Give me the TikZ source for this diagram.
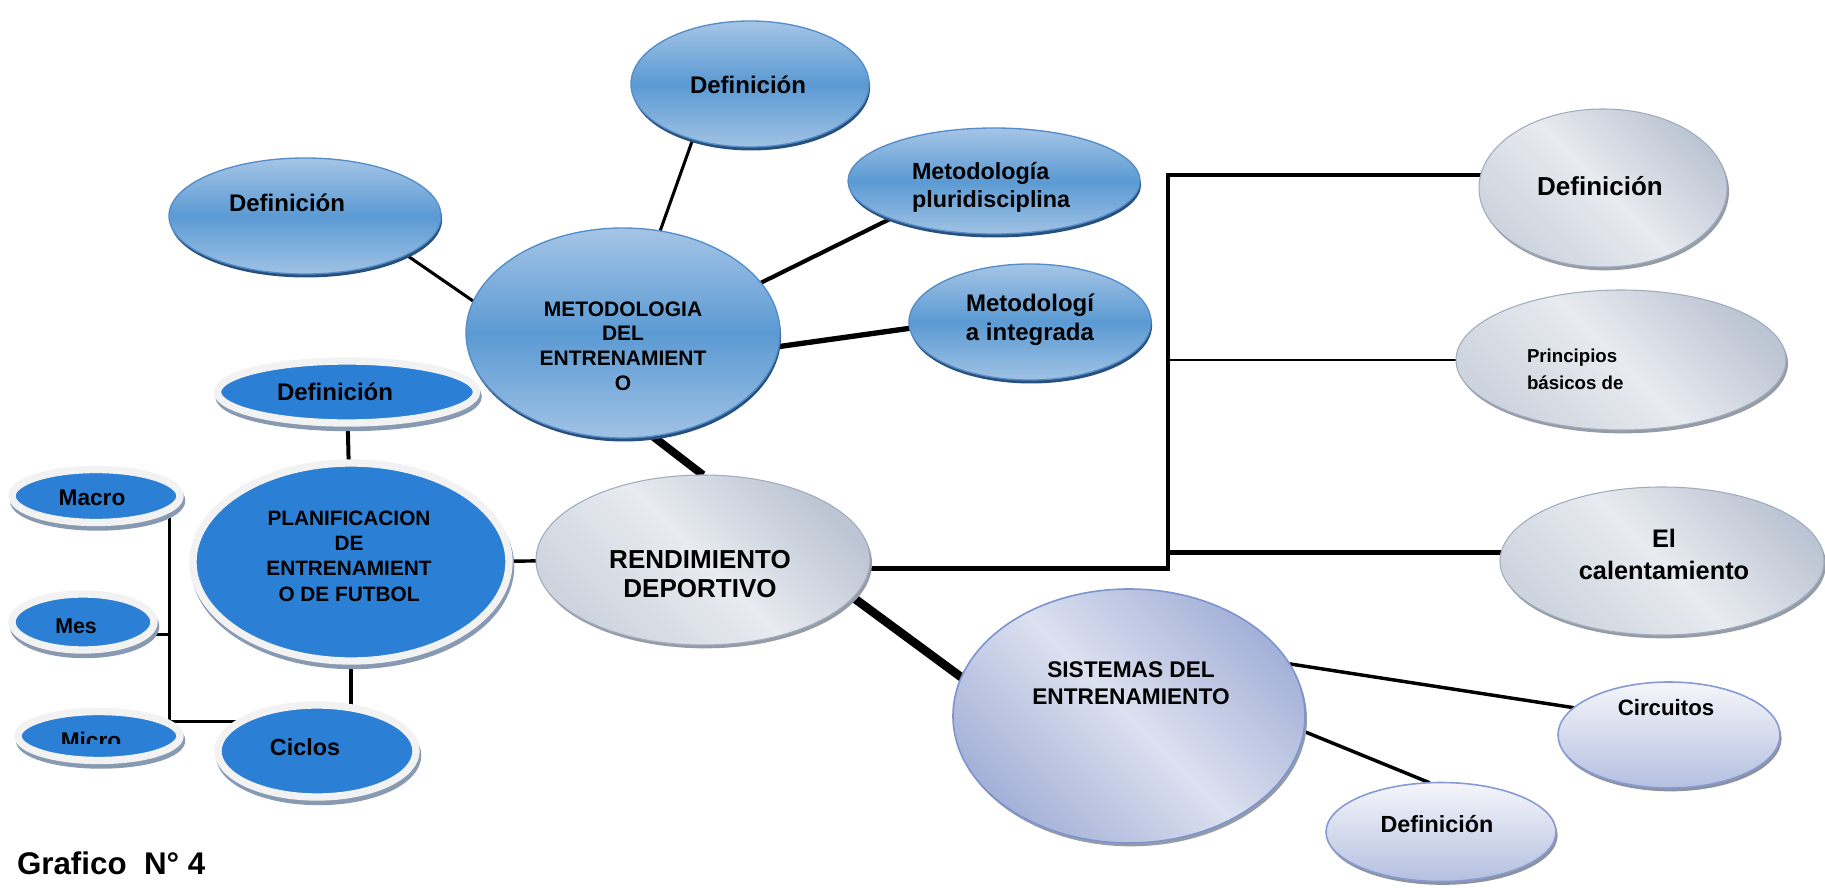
\documentclass[tikz,border=0pt]{standalone}
\usepackage{fontspec}
\setmainfont{Liberation Sans}
\usetikzlibrary{shapes.geometric,shadows,calc}
\pgfdeclarelayer{bg}
\pgfsetlayers{bg,main}

% blue gradient bubbles
\definecolor{bluetop}{RGB}{165,197,230}
\definecolor{bluemid}{RGB}{91,154,211}
\definecolor{bluebot}{RGB}{160,194,228}
\definecolor{blueline}{RGB}{84,141,202}
\definecolor{bluerim}{RGB}{40,80,125}
% solid blue bubbles with white ring
\definecolor{solidblue}{RGB}{43,127,213}
\definecolor{ringgrey}{RGB}{242,242,242}
\definecolor{ringshadow}{RGB}{136,153,178}
% silver bubbles
\definecolor{silverdark}{RGB}{188,197,211}
\definecolor{silverlight}{RGB}{232,235,240}
\definecolor{silverlow}{RGB}{206,212,222}
\definecolor{silverline}{RGB}{160,172,190}
\definecolor{silvershadow}{RGB}{150,156,166}
% lavender bubbles
\definecolor{lavdark}{RGB}{164,177,216}
\definecolor{lavlight}{RGB}{220,225,240}
\definecolor{lavline}{RGB}{125,148,206}
\definecolor{liltop}{RGB}{245,246,250}
\definecolor{lilbot}{RGB}{180,192,225}
\definecolor{lilline}{RGB}{135,155,210}
\definecolor{lilshadow}{RGB}{140,146,160}

\tikzset{
  bub/.style={ellipse, inner sep=0pt, outer sep=0pt},
  bluebub/.style={bub, draw=blueline, line width=1pt,
    top color=bluetop, bottom color=bluebot, middle color=bluemid,
    drop shadow={shadow xshift=0.8pt, shadow yshift=-2.6pt, fill=bluerim, opacity=1}},
  ringbub/.style={bub, fill=solidblue, draw=ringgrey, line width=5.5pt,
    drop shadow={shadow xshift=1.2pt, shadow yshift=-3.4pt, fill=ringshadow,
      draw=ringshadow, line width=5.5pt, opacity=1}},
  silverbub/.style={bub, draw=silverline, line width=0.8pt,
    top color=silverdark, bottom color=silverlow, middle color=silverlight,
    shading angle=-45,
    drop shadow={shadow xshift=1.5pt, shadow yshift=-2.5pt, fill=silvershadow, opacity=1}},
  lavbub/.style={bub, draw=lavline, line width=1.2pt,
    top color=lavdark, bottom color=lavdark, middle color=lavlight,
    shading angle=-45,
    drop shadow={shadow xshift=1.5pt, shadow yshift=-2.5pt, fill=silvershadow, opacity=1}},
  lilbub/.style={bub, draw=lilline, line width=1.2pt,
    top color=liltop, bottom color=lilbot,
    drop shadow={shadow xshift=1.2pt, shadow yshift=-2.5pt, fill=lilshadow, opacity=1}},
  txt/.style={inner sep=0pt, outer sep=0pt, text=black},
  conn/.style={draw=black},
}

\begin{document}
\begin{tikzpicture}[x=0.75pt,y=-0.75pt]
\useasboundingbox (0,0) rectangle (1825,888);

% --- Metodologia cluster ---
\node[bluebub, minimum width=235.5pt, minimum height=157.5pt] (E) at (623,333) {};
\node[bluebub, minimum width=204pt, minimum height=87pt] (A) at (305,216) {};
\node[bluebub, minimum width=178.5pt, minimum height=94.5pt] (B) at (750,84) {};
\node[bluebub, minimum width=219pt, minimum height=79.5pt] (C) at (994,181) {};
\node[bluebub, minimum width=181.5pt, minimum height=87pt] (D) at (1030,322) {};

\node[txt, font={\bfseries\fontsize{18}{21}\selectfont}, anchor=base] (At) at (287,212) {Definición};
\node[txt, font={\bfseries\fontsize{18}{21}\selectfont}, anchor=base] (Bt) at (748,94) {Definición};
\node[txt, font={\bfseries\fontsize{17.5}{21}\selectfont}, align=left, anchor=west] (Ct) at (912,187) {Metodología\\pluridisciplina};
\node[txt, font={\bfseries\fontsize{18}{22}\selectfont}, align=center] (Dt) at (1030,320) {Metodologí\\a integrada};
\node[txt, font={\bfseries\fontsize{15.75}{18.6}\selectfont}, align=center] (Et) at (623,346) {METODOLOGIA\\DEL\\ENTRENAMIENT\\O};

% --- Planificacion cluster ---
\node[ringbub, minimum width=237pt, minimum height=148.5pt] (G) at (351,562) {};
\node[ringbub, minimum width=194.25pt, minimum height=46.5pt] (F) at (347,392) {};
\node[ringbub, minimum width=126pt, minimum height=39.75pt] (H) at (96,496) {};
\node[ringbub, minimum width=106.5pt, minimum height=42pt] (I) at (83,622) {};
\node[ringbub, minimum width=121.5pt, minimum height=36.75pt] (J) at (99,736) {};
\node[ringbub, minimum width=148.5pt, minimum height=69pt] (K) at (317,751) {};

\node[txt, font={\bfseries\fontsize{18}{21}\selectfont}, anchor=base] (Ft) at (335,400) {Definición};
\node[txt, font={\bfseries\fontsize{15.6}{19}\selectfont}, align=center] (Gt) at (349,556) {PLANIFICACION\\DE\\ENTRENAMIENT\\O DE FUTBOL};
\node[txt, font={\bfseries\fontsize{17}{20}\selectfont}, anchor=base] (Ht) at (92,505) {Macro};
\node[txt, font={\bfseries\fontsize{16}{20}\selectfont}, anchor=base] (It) at (76,633) {Mes};
\begin{scope}
  \clip (0,700) rectangle (300,743);
  \node[txt, font={\bfseries\fontsize{17}{20}\selectfont}, anchor=base] (Jt) at (91,748) {Micro};
\end{scope}
\node[txt, font={\bfseries\fontsize{17.5}{20}\selectfont}, anchor=base] (Kt) at (305,755) {Ciclos};

% --- Rendimiento and right branches ---
\node[silverbub, minimum width=250.5pt, minimum height=127.5pt] (L) at (703,560) {};
\node[silverbub, minimum width=186pt, minimum height=118.5pt] (P) at (1603,188) {};
\node[silverbub, minimum width=247.5pt, minimum height=105pt] (Q) at (1621,360) {};
\node[silverbub, minimum width=243pt, minimum height=111pt] (R) at (1662,561) {};

\node[txt, font={\bfseries\fontsize{19.5}{22}\selectfont}, align=center] (Lt) at (700,574) {RENDIMIENTO\\DEPORTIVO};
\node[txt, font={\bfseries\fontsize{19.5}{22}\selectfont}, anchor=base] (Pt) at (1600,196) {Definición};
\node[txt, font={\bfseries\fontsize{14}{20}\selectfont}, align=left, anchor=west] (Qt) at (1527,369) {Principios\\básicos de};
\node[txt, font={\bfseries\fontsize{19}{24}\selectfont}, align=center] (Rt) at (1664,554) {El\\calentamiento};

% --- Sistemas cluster ---
\node[lavbub, minimum width=264pt, minimum height=190.5pt] (M) at (1129,716) {};
\node[lilbub, minimum width=166.5pt, minimum height=79.5pt] (N) at (1669,735) {};
\node[lilbub, minimum width=172.5pt, minimum height=74.25pt] (O) at (1441,832) {};

\node[txt, font={\bfseries\fontsize{17}{20}\selectfont}, align=center] (Mt) at (1131,683) {SISTEMAS DEL\\ENTRENAMIENTO};
\node[txt, font={\bfseries\fontsize{16.7}{20}\selectfont}, anchor=base] (Nt) at (1666,715) {Circuitos};
\node[txt, font={\bfseries\fontsize{17.5}{20}\selectfont}, anchor=base] (Ot) at (1437,832) {Definición};

\node[txt, font={\bfseries\fontsize{23.5}{28}\selectfont}, anchor=base west] (title) at (17,874) {Grafico\ \ N° 4};

\coordinate (bus) at (1168,360);

% --- white page and connectors, beneath the bubbles ---
\begin{pgfonlayer}{bg}
  \fill[white] (0,0) rectangle (1825,888);

  \draw[conn, line width=2.3pt] (A.-21) -- (E.168);
  \draw[conn, line width=2.3pt] (B.-136) -- (E.70);
  \draw[conn, line width=3.1pt] (E.20) -- (C.-160);
  \draw[conn, line width=4pt] (E.-5) -- (D.183);
  \draw[conn, line width=6pt] (E.-74) -- (L.90);

  \draw[conn, line width=3pt] (F) -- (G);
  \draw[conn, line width=2.6pt] (G) -- (L);
  \draw[conn, line width=3pt] (G.south) -- (G.south |- K.north);
  \draw[conn, line width=2.6pt] (H.-10) |- (K.159);
  \draw[conn, line width=2.6pt] (I.-11) -- (I.-11 -| H.-10);

  \draw[conn, line width=3.6pt] (L.-3) -- (L.-3 -| bus) -- (bus |- R.177.5) -- (R.177.5);
  \draw[conn, line width=2.7pt] (bus |- R.177.5) -- (bus |- P.174) -- (P.174);
  \draw[conn, line width=1.2pt] (Q.180 -| bus) -- (Q.180);

  \draw[conn, line width=6.5pt] (L.-14) -- (M.167);
  \draw[conn, line width=2.6pt] (M.18) -- (N.164);
  \draw[conn, line width=2.6pt] (M.-5) -- (O.103);
\end{pgfonlayer}
\end{tikzpicture}
\end{document}
